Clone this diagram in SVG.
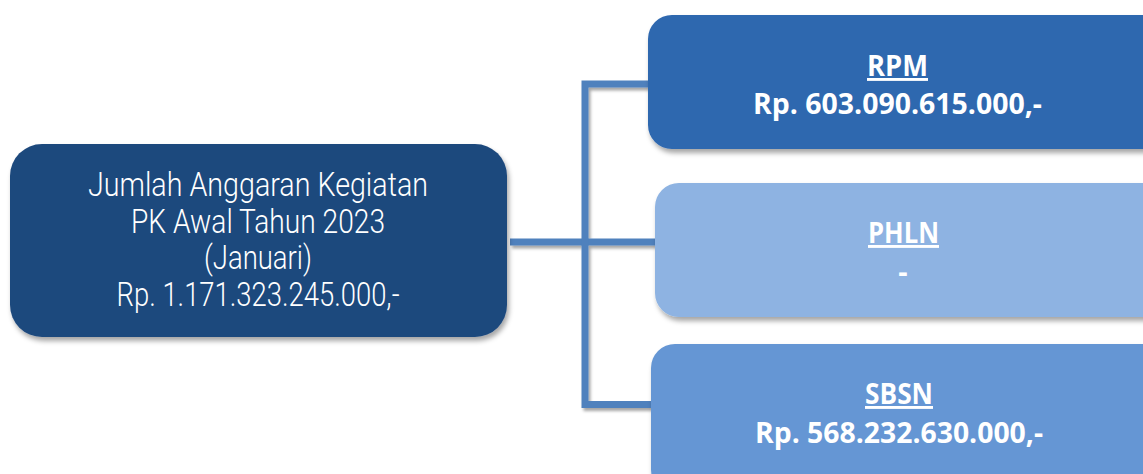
<svg xmlns="http://www.w3.org/2000/svg" width="1143" height="474" viewBox="0 0 1143 474">
<defs>
<filter id="sh" x="-10%" y="-10%" width="130%" height="140%">
<feDropShadow dx="2" dy="4" stdDeviation="2.5" flood-color="#000" flood-opacity="0.35"/>
</filter>
<filter id="lsh" x="-10%" y="-10%" width="130%" height="130%">
<feDropShadow dx="2" dy="3" stdDeviation="1.5" flood-color="#000" flood-opacity="0.35"/>
</filter>
</defs>
<style>
.conn{fill:none;stroke:#4F81BD;stroke-width:7;stroke-linecap:butt;stroke-linejoin:miter}
.main{font-family:Roboto,"Liberation Sans",sans-serif;font-weight:300;font-size:33px;fill:#FFFFFF;text-anchor:middle}
.ttl{font-family:"Open Sans","Noto Sans","Liberation Sans",sans-serif;font-weight:700;font-size:29px;fill:#FFFFFF;text-anchor:middle;text-decoration:underline}
.val{font-family:"Open Sans","Noto Sans","Liberation Sans",sans-serif;font-weight:700;font-size:29px;fill:#FFFFFF;text-anchor:middle}
</style>
<rect width="1143" height="474" fill="#FFFFFF"/>
<g id="connectors" filter="url(#lsh)">
<path class="conn" d="M510,242 H655"/>
<path class="conn" d="M648,84 H585 V404.5 H652"/>
</g>
<g id="node-total">
<rect x="10" y="144" width="497" height="193" rx="32" fill="#1F497D" filter="url(#sh)"/>
<text class="main" x="258" y="196" textLength="340" lengthAdjust="spacingAndGlyphs">Jumlah Anggaran Kegiatan</text>
<text class="main" x="258" y="233" textLength="254" lengthAdjust="spacingAndGlyphs">PK Awal Tahun 2023</text>
<text class="main" x="258" y="269" textLength="108" lengthAdjust="spacingAndGlyphs">(Januari)</text>
<text class="main" x="258" y="306" textLength="283" lengthAdjust="spacingAndGlyphs">Rp. 1.171.323.245.000,-</text>
</g>
<g id="node-rpm">
<rect x="648" y="15" width="520" height="134" rx="24" fill="#2E67AF" filter="url(#sh)"/>
<text class="ttl" x="897.5" y="76" textLength="61" lengthAdjust="spacingAndGlyphs">RPM</text>
<text class="val" x="897.5" y="114" textLength="289" lengthAdjust="spacingAndGlyphs">Rp. 603.090.615.000,-</text>
</g>
<g id="node-phln">
<rect x="655" y="183" width="520" height="134" rx="24" fill="#8EB3E2" filter="url(#sh)"/>
<text class="ttl" x="903.5" y="243" textLength="71" lengthAdjust="spacingAndGlyphs">PHLN</text>
<text class="val" x="903" y="282">-</text>
</g>
<g id="node-sbsn">
<rect x="651" y="344" width="520" height="150" rx="24" fill="#6596D4" filter="url(#sh)"/>
<text class="ttl" x="899" y="404" textLength="68" lengthAdjust="spacingAndGlyphs">SBSN</text>
<text class="val" x="899" y="443" textLength="288" lengthAdjust="spacingAndGlyphs">Rp. 568.232.630.000,-</text>
</g>
</svg>
